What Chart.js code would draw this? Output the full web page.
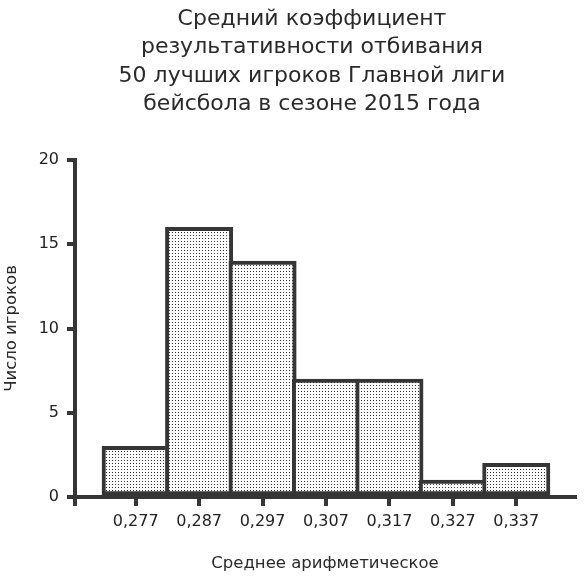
<!DOCTYPE html>
<html lang="ru">
<head>
<meta charset="UTF-8">
<title>Средний коэффициент результативности отбивания</title>
<script src="https://cdn.jsdelivr.net/npm/chart.js"></script>
<style>
  html, body { margin: 0; padding: 0; background: #fff; }
  #wrap { width: 584px; height: 579px; }
</style>
</head>
<body>
<div id="wrap"><canvas id="hist"></canvas></div>
<script>
// data
const titleLines = [
  'Средний коэффициент',
  'результативности отбивания',
  '50 лучших игроков Главной лиги',
  'бейсбола в сезоне 2015 года'
];
const binCenters = [0.277, 0.287, 0.297, 0.307, 0.317, 0.327, 0.337];
const playerCounts = [3, 16, 14, 7, 7, 1, 2];
const yTicks = [0, 5, 10, 15, 20];
const xTitle = 'Среднее арифметическое';
const yTitle = 'Число игроков';

const xMin = 0.26743;
const xMax = 0.34626;
const ink = '#363636';
const fontFamily = '"DejaVu Sans", sans-serif';

// dotted fill for the bars
function dotPattern() {
  const c = document.createElement('canvas');
  c.width = 3; c.height = 3;
  const g = c.getContext('2d');
  g.fillStyle = '#ffffff';
  g.fillRect(0, 0, 3, 3);
  g.fillStyle = '#333333';
  g.fillRect(1, 1, 1, 1);
  return g.createPattern(c, 'repeat');
}

// multi-line title, centred a little right of the canvas middle like the original
const titlePlugin = {
  id: 'blockTitle',
  afterDraw(chart) {
    const ctx = chart.ctx;
    ctx.save();
    ctx.fillStyle = '#2a2a2a';
    ctx.font = '22px ' + fontFamily;
    ctx.textAlign = 'center';
    ctx.textBaseline = 'alphabetic';
    titleLines.forEach((line, i) => {
      ctx.fillText(line, 312, 25 + i * 28.4);
    });
    ctx.restore();
  }
};

const ctx = document.getElementById('hist').getContext('2d');
new Chart(ctx, {
  type: 'bar',
  data: {
    datasets: [{
      data: binCenters.map((x, i) => ({ x: x, y: playerCounts[i] })),
      backgroundColor: dotPattern(),
      borderColor: ink,
      borderWidth: 4,
      borderSkipped: false,
      // flex: width from neighbouring bins; slightly >1 so adjacent borders overlap
      barThickness: 'flex',
      categoryPercentage: 1,
      barPercentage: 1.063
    }]
  },
  options: {
    responsive: true,
    maintainAspectRatio: false,
    animation: false,
    layout: { padding: { top: 160, right: 9, left: 0, bottom: 0 } },
    plugins: {
      legend: { display: false },
      tooltip: { enabled: false }
    },
    scales: {
      x: {
        type: 'linear',
        offset: false,
        min: xMin,
        max: xMax,
        // a blank tick at the left edge makes the axis corner run down like the original
        afterBuildTicks: scale => {
          scale.ticks = [xMin].concat(binCenters).map(v => ({ value: v }));
        },
        afterFit: scale => { scale.height = 82; },
        grid: {
          offset: false,
          drawOnChartArea: false,
          drawTicks: true,
          tickLength: 9,
          color: ink,
          lineWidth: 4
        },
        border: { display: true, color: ink, width: 4 },
        ticks: {
          padding: 6,
          color: '#222',
          font: { family: fontFamily, size: 16 },
          maxRotation: 0,
          autoSkip: false,
          callback: v => binCenters.includes(v) ? v.toFixed(3).replace('.', ',') : ''
        },
        title: {
          display: true,
          text: xTitle,
          color: '#2a2a2a',
          font: { family: fontFamily, size: 16.5 },
          padding: { top: 0, bottom: 5 }
        }
      },
      y: {
        min: 0,
        max: 20,
        afterBuildTicks: scale => {
          scale.ticks = yTicks.map(v => ({ value: v }));
        },
        afterFit: scale => { scale.width = 75; },
        grid: {
          drawOnChartArea: false,
          drawTicks: true,
          tickLength: 8,
          color: ink,
          lineWidth: 4
        },
        border: { display: true, color: ink, width: 4 },
        ticks: {
          padding: 8,
          color: '#222',
          font: { family: fontFamily, size: 16 }
        },
        title: {
          display: true,
          text: yTitle,
          color: '#2a2a2a',
          font: { family: fontFamily, size: 16.5 },
          padding: { top: 2, bottom: 0 }
        }
      }
    }
  },
  plugins: [titlePlugin]
});
</script>
</body>
</html>
